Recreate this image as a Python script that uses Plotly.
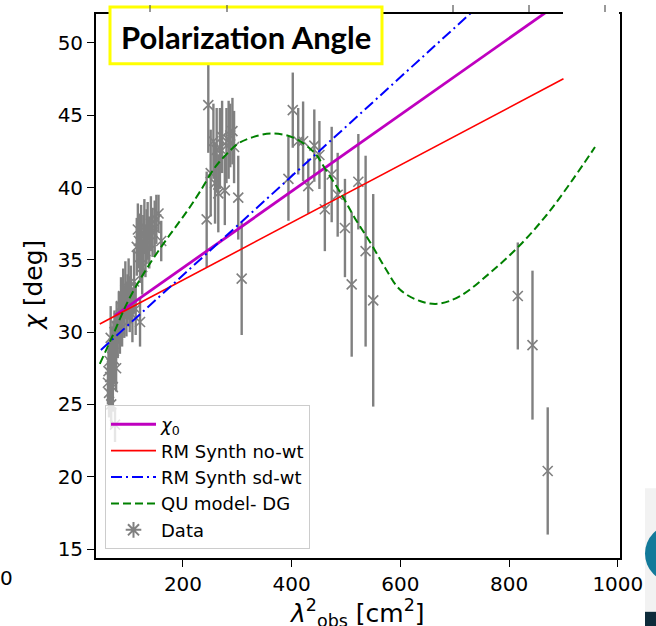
import plotly.graph_objects as go

# ---------------- data ----------------
lam2_data = [62, 63, 64, 65, 66, 67, 68, 69, 70, 71, 72, 73, 74, 75, 76, 77, 78, 80,
             82, 84, 86, 88, 90, 92, 94, 96, 98, 100, 102, 104, 107, 110, 113, 121,
             115, 117, 119, 121, 123, 125, 127, 129, 131, 133, 135, 138, 141, 144, 148, 151, 155, 160,
             243.6, 246.6, 251, 256, 259, 262, 265, 268, 272, 277, 280, 284, 287, 291, 294, 301.7, 308,
             394, 402, 412, 421, 430.5, 441.6, 451, 461, 473.6, 484.6, 498, 510.4, 522.6, 536, 550,
             816, 843, 871]
chi_data = [26.5, 27.3, 25.8, 28.0, 26.9, 29.6, 25.0, 27.8, 28.9, 26.2, 29.2, 28.1, 30.0, 23.6, 29.5, 27.5, 30.4, 29.8,
            31.0, 30.2, 31.8, 30.8, 32.5, 31.4, 32.9, 31.6, 32.2, 33.0, 31.9, 32.6, 31.2, 33.5, 31.6, 30.7,
            35.9, 37.1, 36.3, 35.2, 36.8, 34.5, 36.0, 37.3, 35.6, 36.6, 37.0, 36.2, 37.5, 36.9, 37.2, 37.8, 38.2, 36.3,
            37.8, 45.7, 41.0, 43.2, 40.3, 42.6, 39.6, 42.7, 43.5, 39.8, 42.9, 43.3, 43.6, 43.9, 42.8, 39.3, 33.7,
            40.6, 45.35, 43.2, 43.2, 40.1, 42.9, 42.25, 38.5, 40.9, 39.5, 37.2, 33.3, 40.4, 35.6, 32.2,
            32.5, 29.1, 20.4]
chi_err = [1.5, 1.6, 1.7, 1.5, 1.8, 2.2, 1.6, 1.6, 1.5, 1.7, 1.6, 1.7, 1.5, 1.2, 1.8, 1.6, 1.7, 1.6,
           1.8, 1.7, 2.0, 1.8, 1.9, 1.8, 2.0, 1.9, 1.8, 2.1, 1.9, 2.0, 1.9, 2.2, 1.8, 1.7,
           2.0, 1.8, 1.9, 1.8, 2.0, 1.9, 2.1, 1.9, 1.8, 1.9, 2.0, 1.8, 1.9, 1.7, 1.9, 1.7, 1.3, 1.4,
           3.3, 3.3, 3.0, 2.6, 2.8, 2.9, 2.7, 2.8, 2.5, 2.4, 2.6, 2.7, 2.2, 2.3, 2.5, 2.9, 3.9,
           2.9, 2.6, 2.3, 2.75, 1.9, 2.5, 2.35, 2.9, 3.3, 2.9, 3.4, 5.0, 3.3, 6.6, 7.35,
           3.7, 5.15, 4.4]

chi0_x = [75, 905]
chi0_y = [31.14, 53.1]
nowt_x = [47, 900]
nowt_y = [30.56, 47.52]
sdwt_x = [49, 900]
sdwt_y = [28.77, 57.9]
qu_x = [47, 70, 99, 130, 160, 185, 210, 231, 259, 280, 302, 330, 366, 406, 443, 461, 492,
        516, 547, 572, 599, 636, 670, 710, 765, 817, 869, 918, 958]
qu_y = [27.8, 29.7, 32.15, 34.2, 35.9, 37.2, 38.5, 39.7, 41.4, 42.3, 43.05, 43.5, 43.74, 43.4,
        42.36, 41.33, 39.5, 37.9, 36.05, 34.44, 32.95, 32.15, 31.96, 32.5, 34.1, 35.9, 38.1, 40.6, 42.8]

x_ticks = [200, 400, 600, 800, 1000]
y_ticks = [15, 20, 25, 30, 35, 40, 45, 50]

FONT = "DejaVu Sans"
GRAY = "#808080"

fig = go.Figure()

fig.add_trace(go.Scatter(
    x=lam2_data, y=chi_data, mode="markers", showlegend=False,
    marker=dict(symbol="x-thin-open", size=10, color=GRAY, line=dict(color=GRAY, width=1.6)),
    error_y=dict(type="data", array=chi_err, visible=True, color=GRAY, thickness=2.4, width=0),
))
fig.add_trace(go.Scatter(x=chi0_x, y=chi0_y, mode="lines", name="<i>χ</i><sub>0</sub>",
                         legendgroup="a", line=dict(color="#bf00bf", width=2.8)))
fig.add_trace(go.Scatter(x=nowt_x, y=nowt_y, mode="lines", name="RM Synth no-wt",
                         legendgroup="b", line=dict(color="#ff0000", width=1.6)))
fig.add_trace(go.Scatter(x=sdwt_x, y=sdwt_y, mode="lines", name="RM Synth sd-wt",
                         legendgroup="c", line=dict(color="#0000ff", width=2, dash="11px,4px,2px,4px")))
fig.add_trace(go.Scatter(x=qu_x, y=qu_y, mode="lines", name="QU model- DG",
                         legendgroup="d", line=dict(color="#008000", width=2, dash="8px,4px", shape="spline")))
fig.add_trace(go.Scatter(x=[None], y=[None], mode="markers", name="Data", legendgroup="e",
                         marker=dict(symbol="asterisk-open", size=13, color=GRAY,
                                     line=dict(color=GRAY, width=2))))

L, R, T, B = 96, 36, 12, 68
W, H = 656, 626
pw, ph = W - L - R, H - T - B

def px(xp):
    return (xp - L) / pw

def py(yp):
    return (H - B - yp) / ph

axis_common = dict(showgrid=False, zeroline=False, showline=True, linecolor="black", linewidth=1.8,
                   mirror=True, ticks="outside", ticklen=7, tickwidth=1.4, tickcolor="black",
                   tickfont=dict(family=FONT, size=20, color="black"))

fig.update_xaxes(range=[40, 1004], tickvals=x_ticks, ticktext=[str(v) for v in x_ticks], **axis_common)
fig.update_yaxes(range=[14.38, 52.0], tickvals=y_ticks, ticktext=[str(v) for v in y_ticks], **axis_common)

shapes = [
    # cover for the top spine at the right end
    dict(type="rect", xref="paper", yref="paper", x0=px(563), x1=px(619), y0=py(14), y1=py(0),
         fillcolor="white", line=dict(width=0), layer="above"),
    # title box
    dict(type="rect", xref="paper", yref="paper", x0=px(110), x1=px(382), y0=py(62), y1=py(5),
         fillcolor="white", line=dict(color="#ffff00", width=3), layer="above"),
    # background artefacts bottom right
    dict(type="rect", xref="paper", yref="paper", x0=px(645), x1=px(660), y0=py(612), y1=py(488),
         fillcolor="#f2f2f2", line=dict(width=0), layer="above"),
    dict(type="circle", xref="paper", yref="paper", x0=px(645), x1=px(700), y0=py(582), y1=py(525),
         fillcolor="#137a9a", line=dict(width=0), layer="above"),
    dict(type="rect", xref="paper", yref="paper", x0=px(645), x1=px(660), y0=py(630), y1=py(612),
         fillcolor="#0d2b3a", line=dict(width=0), layer="above"),
]
for tx in [150, 227, 453, 529, 605]:
    shapes.append(dict(type="line", xref="paper", yref="paper", x0=px(tx), x1=px(tx), y0=py(10), y1=py(3),
                       line=dict(color="#555555", width=1.2), layer="above"))

annotations = [
    dict(text="<b>Polarization Angle</b>", xref="paper", yref="paper", x=px(246), y=py(35),
         xanchor="center", yanchor="middle", showarrow=False,
         font=dict(family="Lato", size=31, color="black")),
    dict(text="<i>χ</i> [deg]", xref="paper", yref="paper", x=px(33), y=py(285), textangle=-90,
         xanchor="center", yanchor="middle", showarrow=False,
         font=dict(family=FONT, size=25, color="black")),
    dict(text="<i>λ</i><sup>2</sup><sub>obs</sub> [cm<sup>2</sup>]", xref="paper", yref="paper",
         x=px(357), y=py(613), xanchor="center", yanchor="middle", showarrow=False,
         font=dict(family=FONT, size=25, color="black")),
    dict(text="0", xref="paper", yref="paper", x=px(6), y=py(578), xanchor="center", yanchor="middle",
         showarrow=False, font=dict(family=FONT, size=20, color="black")),
]

fig.update_layout(
    width=W, height=H, margin=dict(l=L, r=R, t=T, b=B, pad=0),
    paper_bgcolor="white", plot_bgcolor="white",
    shapes=shapes, annotations=annotations,
    showlegend=True,
    legend=dict(x=px(105), y=py(549), xanchor="left", yanchor="bottom",
                bgcolor="rgba(255,255,255,0.8)", bordercolor="#cccccc", borderwidth=1,
                font=dict(family=FONT, size=18, color="black"),
                traceorder="grouped", tracegroupgap=0, itemwidth=45),
)

fig.write_html("out.html")
